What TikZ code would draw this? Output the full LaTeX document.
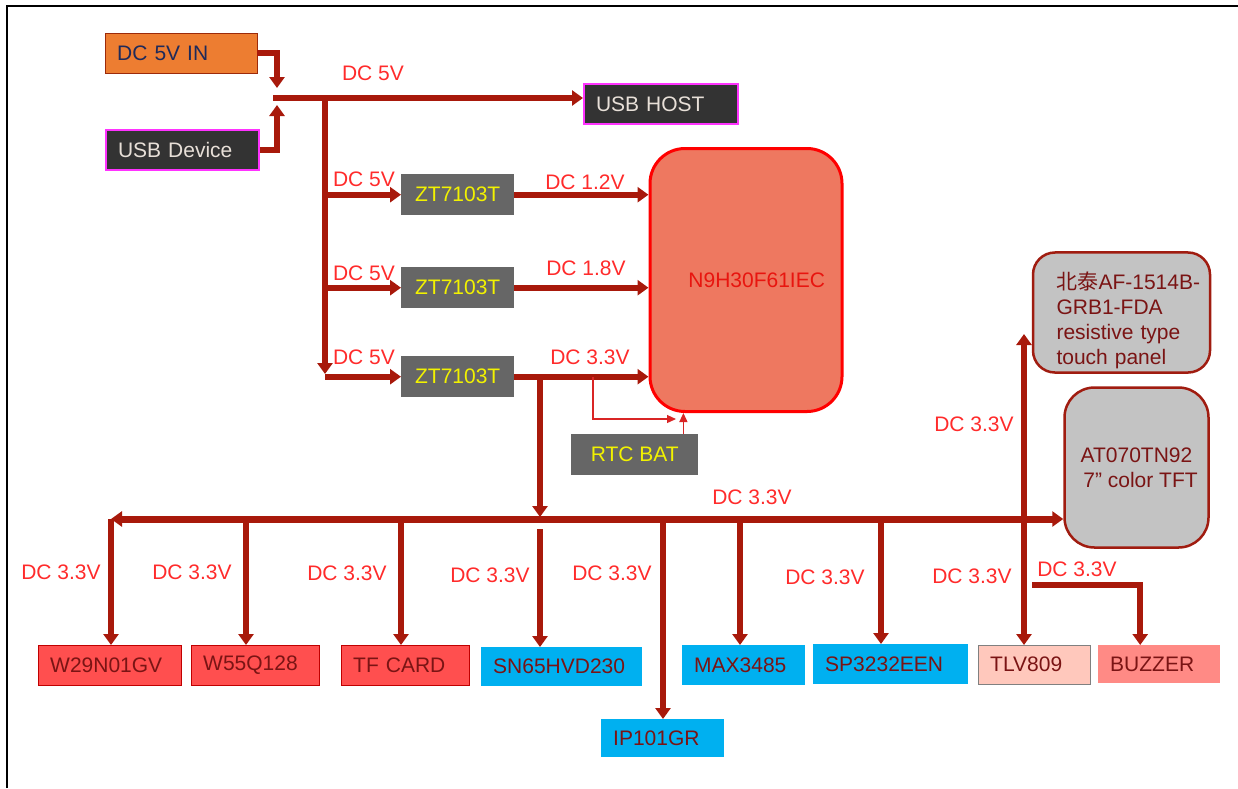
\documentclass[tikz,border=0pt]{standalone}
\usepackage{fontspec}
\setmainfont{Liberation Sans}
\newfontfamily\cjk{Noto Sans CJK SC}
\usetikzlibrary{arrows.meta}

\definecolor{wirered}{HTML}{A8190B}
\definecolor{lblred}{HTML}{FF2B2B}
\definecolor{partred}{HTML}{7A1414}
\definecolor{dcinorange}{HTML}{ED7D31}
\definecolor{dcinedge}{HTML}{9C2A0A}
\definecolor{dcintext}{HTML}{1F2A5A}
\definecolor{usbgrey}{HTML}{333333}
\definecolor{usbpink}{HTML}{FF33FF}
\definecolor{usbtext}{HTML}{E8E0D8}
\definecolor{ldogrey}{HTML}{666666}
\definecolor{ldoyellow}{HTML}{F2F200}
\definecolor{cpufill}{HTML}{EE7860}
\definecolor{cpured}{HTML}{E8150F}
\definecolor{panelgrey}{HTML}{C3C3C3}
\definecolor{paneledge}{HTML}{A01C10}
\definecolor{memred}{HTML}{FF4F4F}
\definecolor{memedge}{HTML}{C00000}
\definecolor{ifcblue}{HTML}{00B0F0}
\definecolor{tlvpink}{HTML}{FFC8BC}
\definecolor{buzzpink}{HTML}{FF8A85}

\begin{document}
\begin{tikzpicture}[x=1pt,y=-1pt,font=\fontsize{21}{25}\selectfont]
\tikzstyle{box} = [rectangle, anchor=north west, inner xsep=12pt, inner ysep=0pt,
align=left, minimum height=40pt]
\tikzstyle{usb} = [box, draw=usbpink, fill=usbgrey, text=usbtext, line width=2pt]
\tikzstyle{ldo} = [rectangle, anchor=north west, fill=ldogrey, text=ldoyellow,
minimum width=113pt, minimum height=41pt]
\tikzstyle{panel} = [rectangle, draw=paneledge, line width=2.5pt, fill=panelgrey,
text=partred, rounded corners=22pt]
\tikzstyle{mem} = [box, draw=memedge, fill=memred, text=partred]
\tikzstyle{ifc} = [box, fill=ifcblue, text=partred]
\tikzstyle{lbl} = [text=lblred, inner sep=0pt]
\tikzstyle{wire} = [draw=wirered, line width=6pt, -{Triangle[length=11pt,width=15pt]}]
\tikzstyle{thinwire} = [draw=lblred!85!black, line width=1.2pt, -{Triangle[length=9pt,width=8pt]}]

\useasboundingbox (0,0) rectangle (1238,788);
\draw[line width=2.5pt] (7,788) -- (7,6) -- (1238,6);

% power inputs
\node[box, draw=dcinedge, fill=dcinorange, text=dcintext, text width=128pt] (dcin) at (105,33) {DC 5V IN};
\node[usb, text width=129pt] (usbdev) at (105,129) {USB Device};
\node[usb, text width=130pt] (usbhost) at (583,83) {USB HOST};

% regulators and cpu
\node[ldo] (reg1) at (401,174) {ZT7103T};
\node[ldo] (reg2) at (401,267) {ZT7103T};
\node[ldo] (reg3) at (401,356) {ZT7103T};
\node[rectangle, rounded corners=35pt, draw=red, line width=3pt, fill=cpufill, text=cpured,
minimum width=192pt, minimum height=263pt, text width=158pt, align=right] (cpu) at (746,280) {N9H30F61IEC};
\node[ldo, minimum width=127pt] (rtc) at (571,434) {RTC BAT};

% display
\node[panel, minimum width=177pt, minimum height=119pt, text width=130pt, align=left] (touch) at (1121.5,312.5)
{\rule{0pt}{34pt}\mbox{{\cjk 北泰}AF-1514B-}\\GRB1-FDA\\resistive type\\touch panel};
\node[panel, rounded corners=30pt, minimum width=144pt, minimum height=160pt, align=center] (tft) at (1136.5,467.5)
{AT070TN92\\\hspace*{8pt}7” color TFT};

% peripherals
\node[mem, text width=119pt] (nand) at (38,645) {W29N01GV};
\node[mem, text width=104pt] (spiflash) at (191,645) {W55Q128};
\node[mem, text width=104pt] (tfcard) at (341,645) {TF CARD};
\node[ifc, text width=137pt, minimum height=39pt] (can) at (481,647) {SN65HVD230};
\node[ifc, text width=99pt, minimum height=38pt] (phy) at (601,719) {IP101GR};
\node[ifc, text width=99pt] (rs485) at (682,645) {MAX3485};
\node[ifc, text width=131pt] (rs232) at (813,644) {SP3232EEN};
\node[box, draw=gray, fill=tlvpink, text=partred, text width=88pt, minimum height=39pt] (reset) at (978,645) {TLV809};
\node[box, fill=buzzpink, text=partred, text width=98pt, minimum height=38pt] (buzzer) at (1098,645) {BUZZER};

% voltage labels
\node[lbl] (v5top) at (373,73) {DC 5V};
\node[lbl] (v5a) at (364,179) {DC 5V};
\node[lbl] (v5b) at (364,273) {DC 5V};
\node[lbl] (v5c) at (364,357) {DC 5V};
\node[lbl] (v12) at (585,182) {DC 1.2V};
\node[lbl] (v18) at (586,268) {DC 1.8V};
\node[lbl] (v33) at (590,357) {DC 3.3V};
\node[lbl] (v33bus) at (752,497) {DC 3.3V};
\node[lbl] (v33tp) at (974,424) {DC 3.3V};
\foreach \x/\y/\n in {61/572/nand, 192/572/spiflash, 347/573/tfcard, 490/575/can,
  612/573/phy, 825/577/rs232, 972/576/reset, 1077/569/buzzer}
  \node[lbl] (v\n) at (\x,\y) {DC 3.3V};

% 5V rail
\coordinate (vin) at (277,88);
\coordinate (vdev) at (277,105);
\coordinate (bus5) at (273,98);
\coordinate (trunk) at (325,98);
\coordinate (trunkend) at (325,374);
\draw[wire] (dcin.east) -| (vin);
\draw[wire] (usbdev.east) -| (vdev);
\draw[wire] (bus5) -- (bus5 -| usbhost.west);
\draw[wire] (trunk) -- (trunkend);
\foreach \r in {reg1,reg2,reg3} {
  \draw[wire] (\r.west -| trunk) -- (\r.west);
  \draw[wire] (\r.east) -- (\r.east -| cpu.west);
}

% rtc
\coordinate (rtctap) at (593,377);
\coordinate (rtcend) at (676,419);
\coordinate (rtcpin) at ([xshift=-15pt]rtc.north east);
\draw[thinwire] (rtctap) |- (rtcend);
\draw[thinwire] (rtcpin) -- (rtcpin |- cpu.south);

% 3.3V rail
\coordinate (tap33) at (540,377);
\coordinate (bus33) at (540,517);
\coordinate (busL) at (111,519);
\draw[wire] (tap33) -- (bus33);
\draw[wire, line width=7pt, {Triangle[length=11pt,width=15pt]}-{Triangle[length=11pt,width=15pt]}]
  (busL) -- (busL -| tft.west);
\draw[wire] (busL) -- (busL |- nand.north);
\foreach \x/\n in {246/spiflash, 401/tfcard, 663/phy, 740/rs485, 881/rs232} {
  \coordinate (d\n) at (\x,519);
  \draw[wire] (d\n) -- (d\n |- \n.north);
}
\coordinate (dcan) at (540,529);
\draw[wire] (dcan) -- (dcan |- can.north);
\coordinate (tpin) at (1024,334);
\draw[wire, {Triangle[length=11pt,width=15pt]}-{Triangle[length=11pt,width=15pt]}] (tpin) -- (tpin |- reset.north);
\coordinate (bztap) at (1032,585);
\draw[wire] (bztap) -| ([xshift=-19pt]buzzer.north);
\end{tikzpicture}
\end{document}
